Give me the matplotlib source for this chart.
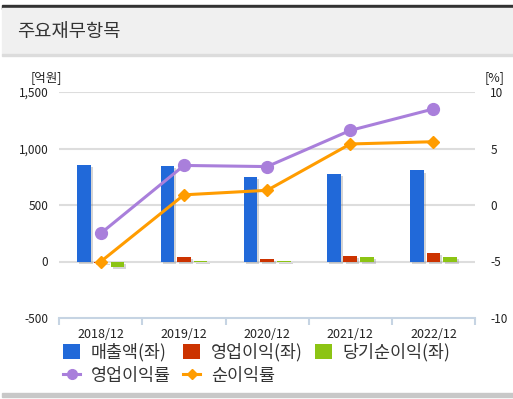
import numpy as np
import matplotlib
matplotlib.use("Agg")
import matplotlib.pyplot as plt
from matplotlib.patches import Rectangle, Patch
from matplotlib.lines import Line2D
import matplotlib.patheffects as pe
from matplotlib.ticker import FuncFormatter

plt.rcParams['font.family'] = ['Noto Sans CJK KR', 'DejaVu Sans']
plt.rcParams['axes.unicode_minus'] = False

# data
years = ['2018/12', '2019/12', '2020/12', '2021/12', '2022/12']
revenue = [856, 844, 747, 776, 806]          # 매출액 (억원)
op_profit = [-10, 39, 24, 50, 77]            # 영업이익 (억원)
net_profit = [-50, 5, 5, 44, 44]             # 당기순이익 (억원)
op_margin = [-2.5, 3.5, 3.4, 6.6, 8.5]       # 영업이익률 (%)
net_margin = [-5.0, 0.9, 1.3, 5.4, 5.6]      # 순이익률 (%)

c_blue = '#2169d9'
c_red = '#cc3300'
c_green = '#8cc414'
c_purple = '#a97fdb'
c_orange = '#ff9c00'
axis_col = '#c6d4e3'
txt = '#222222'

W, H = 513, 399
fig = plt.figure(figsize=(W / 100, H / 100), dpi=100)

# header bar
fig.patches.append(Rectangle((2 / W, 1 - 8.5 / H), 1, 3.5 / H, transform=fig.transFigure,
                             color='#333333', zorder=0))
fig.patches.append(Rectangle((2 / W, 1 - 54 / H), 1, 45.5 / H, transform=fig.transFigure,
                             color='#f0f0f0', zorder=0))
fig.patches.append(Rectangle((2 / W, 1 - 55.5 / H), 1, 1.5 / H, transform=fig.transFigure,
                             color='#dcdcdc', zorder=0))
fig.patches.append(Rectangle((2 / W, 1 - 397 / H), 1, 4 / H, transform=fig.transFigure,
                             color='#c8c8c8', zorder=0))
fig.text(17 / W, 1 - 32 / H, '주요재무항목', fontsize=13.5, color='#333333', va='center', ha='left')

ax = fig.add_axes([59.3 / W, 1 - 318 / H, (475 - 59.3) / W, 226 / H])
ax.set_facecolor('none')
x = np.arange(len(years))
bw = 0.165
off = 0.2
shadow = [pe.SimplePatchShadow(offset=(1.5, -1.5), shadow_rgbFace='#888888', alpha=0.35), pe.Normal()]
for vals, dx, col in [(revenue, -off, c_blue), (op_profit, 0, c_red), (net_profit, off, c_green)]:
    bars = ax.bar(x + dx, vals, bw, color=col, zorder=3)
    for b in bars:
        b.set_path_effects(shadow)

ax.set_xlim(-0.5, 4.5)
ax.set_ylim(-500, 1500)
ax.set_yticks([-500, 0, 500, 1000, 1500])
ax.yaxis.set_major_formatter(FuncFormatter(lambda v, p: f'{int(v):,}'))
for v in [0, 500, 1000, 1500]:
    ax.axhline(v, color='#dddddd', lw=1.5, zorder=1)
for s in ['top', 'left', 'right']:
    ax.spines[s].set_visible(False)
ax.spines['bottom'].set_color(axis_col)
ax.spines['bottom'].set_linewidth(1.5)
ax.tick_params(axis='y', length=0, pad=8, labelsize=8.5, labelcolor=txt)
ax.set_xticks(x)
ax.set_xticklabels(years)
ax.set_xticks(np.arange(-0.5, 5, 1), minor=True)
ax.tick_params(axis='x', which='major', length=0, pad=7, labelsize=9, labelcolor=txt)
ax.tick_params(axis='x', which='minor', length=5, width=1.5, color=axis_col)

ax2 = ax.twinx()
ax2.set_ylim(-10, 10)
ax2.set_yticks([-10, -5, 0, 5, 10])
for s in ax2.spines.values():
    s.set_visible(False)
ax2.tick_params(axis='y', length=0, pad=11, labelsize=8.5, labelcolor=txt)
ax2.plot(x, op_margin, color=c_purple, lw=2.2, marker='o', ms=8.5, zorder=4)
ax2.plot(x, net_margin, color=c_orange, lw=2.2, marker='D', ms=6, zorder=5)

fig.text(46 / W, 1 - 78 / H, '[억원]', fontsize=9, color=txt, ha='center', va='center')
fig.text(495 / W, 1 - 78 / H, '[%]', fontsize=9, color=txt, ha='center', va='center')

handles = [
    Patch(facecolor=c_blue), Line2D([], [], color=c_purple, lw=2.2, marker='o', ms=7),
    Patch(facecolor=c_red), Line2D([], [], color=c_orange, lw=2.2, marker='D', ms=5),
    Patch(facecolor=c_green),
]
labels = ['매출액(좌)', '영업이익률', '영업이익(좌)', '순이익률', '당기순이익(좌)']
fig.legend(handles, labels, loc='upper left', bbox_to_anchor=(63 / W, 1 - 343 / H),
           ncol=3, frameon=False, fontsize=12.5, handlelength=1.0, handleheight=1.0,
           handletextpad=0.6, columnspacing=0.7, labelspacing=0.3, borderpad=0,
           borderaxespad=0, labelcolor='#333333')

fig.savefig('out.png', dpi=100)
